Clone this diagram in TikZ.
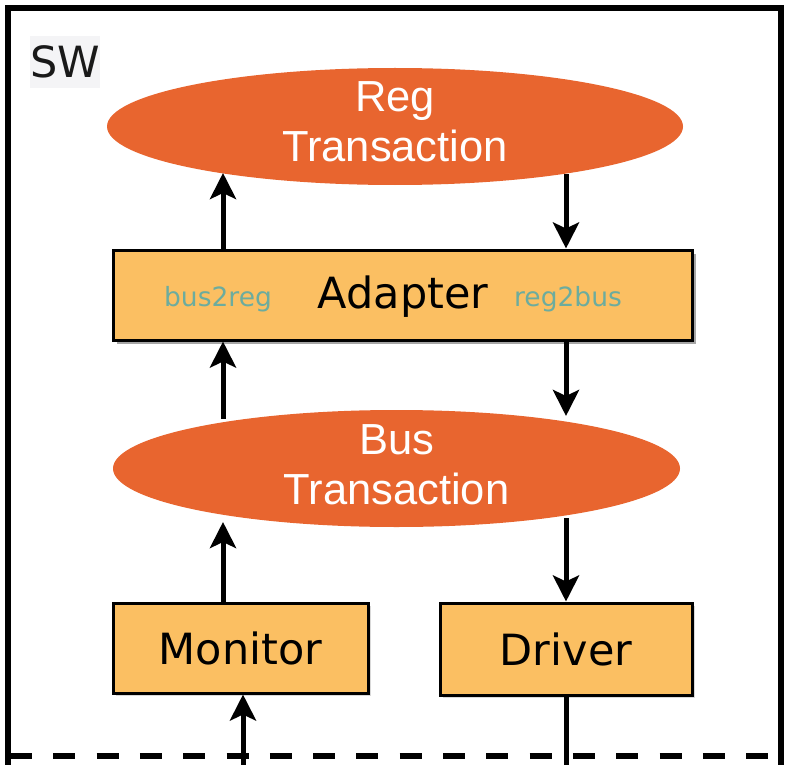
\documentclass[tikz,border=0pt]{standalone}
\usepackage{fontspec}
\setmainfont{DejaVu Sans}
\newfontfamily\helv{Liberation Sans}
\usetikzlibrary{shapes.geometric,arrows.meta}
\definecolor{ora}{HTML}{E8652F}
\definecolor{boxfill}{HTML}{FBBF62}
\definecolor{teal2}{HTML}{6CAC9E}
\definecolor{swbg}{HTML}{F4F4F6}
\tikzset{
  oval/.style={ellipse, fill=ora, draw=none, inner sep=0pt},
  ovaltxt/.style={text=white, align=center, font=\helv\fontsize{43.5}{50}\selectfont},
  blk/.style={rectangle, fill=boxfill, draw=black, line width=3pt, inner sep=0pt,
    font=\fontsize{43}{50}\selectfont},
  shad/.style={fill=black!35, draw=none},
  arr/.style={line width=5pt, -{Stealth[length=26pt, width=26pt, inset=6pt]}},
  plain/.style={line width=5pt},
  sub/.style={text=teal2, font=\fontsize{26.5}{30}\selectfont, inner sep=0pt},
}
\begin{document}
\begin{tikzpicture}[x=1pt, y=-1pt]
\useasboundingbox (0,0) rectangle (790,765);
% outer SW frame
\draw[line width=5.5pt] (8,780) -- (8,8) -- (781,8) -- (781,780);
\node[fill=swbg, minimum width=70pt, minimum height=52pt, inner sep=0pt,
  font=\fontsize{43}{48}\selectfont, text=black!90] (sw) at (65,62) {SW};
% dashed boundary
\draw[line width=6pt, dash pattern=on 22pt off 21.3pt] (10,756) -- (775,756);
% shadows
\fill[shad] (117,254) rectangle (696,344);
\fill[black!15] (116,606) rectangle (371,696);
\fill[black!15] (443,606) rectangle (695,698);
% nodes
\node[oval, minimum width=576pt, minimum height=117pt] (reg) at (395,126.5) {};
\node[ovaltxt] (regt) at (395,122) {Reg\\Transaction};
\node[blk, minimum width=579pt, minimum height=90pt] (adapter) at (402.5,295) {};
\node[font=\fontsize{43}{50}\selectfont, inner sep=0pt] (adt) at (403,297) {Adapter};
\node[sub] (b2r) at (218,299) {bus2reg};
\node[sub] (r2b) at (568,299) {reg2bus};
\node[oval, minimum width=567pt, minimum height=117pt] (bus) at (396.5,468.5) {};
\node[ovaltxt] (bust) at (396.5,465) {Bus\\Transaction};
\node[blk, minimum width=255pt, minimum height=90pt] (mon) at (240.5,648) {Monitor};
\node[blk, minimum width=252pt, minimum height=92pt] (drv) at (566,649) {Driver};
% connector end points on ellipses / picture edge
\coordinate (regL) at (223,173);
\coordinate (regR) at (566,174);
\coordinate (busTL) at (223,419);
\coordinate (busTR) at (566,416);
\coordinate (busBL) at (223,522);
\coordinate (busBR) at (566,518);
\coordinate (botM) at (243,770);
\coordinate (botD) at (566,770);
% connectors
\draw[arr] (regL |- adapter.north) -- (regL);
\draw[arr] (regR) -- (regR |- adapter.north);
\draw[arr] (busTL) -- (busTL |- adapter.south);
\draw[arr] (busTR |- adapter.south) -- (busTR);
\draw[arr] (busBL |- mon.north) -- (busBL);
\draw[arr] (busBR) -- (busBR |- drv.north);
\draw[arr] (botM) -- (botM |- mon.south);
\draw[plain] (botD |- drv.south) -- (botD);
\end{tikzpicture}
\end{document}
